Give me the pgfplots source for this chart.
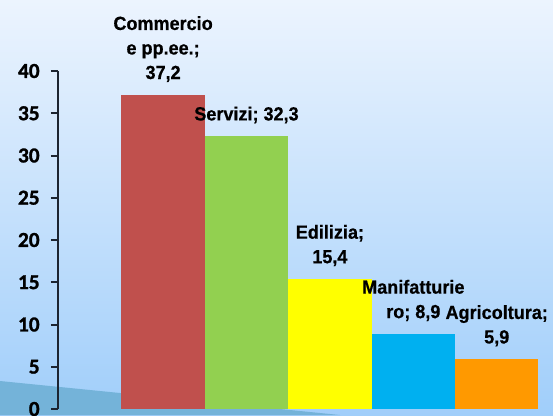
\documentclass[border=0pt]{standalone}
\usepackage{pgfplots}
\pgfplotsset{compat=1.18}
\usepackage{fontspec}
\setmainfont{Liberation Sans}
\newfontfamily\carlitob[FakeBold=1.2]{Carlito Bold}
\newfontfamily\lab[FakeStretch=0.95,FakeBold=0.6]{Liberation Sans Bold}
\definecolor{bgtop}{HTML}{ECF4FE}
\definecolor{bgbot}{HTML}{A0CEFA}
\definecolor{wave}{HTML}{74B3D9}
\definecolor{cRed}{HTML}{C0504D}
\definecolor{cGreen}{HTML}{92D050}
\definecolor{cYellow}{HTML}{FFFF00}
\definecolor{cBlue}{HTML}{00B0F0}
\definecolor{cOrange}{HTML}{FF9900}
\definecolor{axcol}{HTML}{1C2430}
\begin{document}
\begin{tikzpicture}
\path[use as bounding box, clip] (0,0) rectangle (414.75pt,311.25pt);
\shade[top color=bgtop, bottom color=bgbot] (0,0) rectangle (414.75pt,311.25pt);
\fill[wave] (0,25.5pt) -- (255pt,0pt) -- (0,0) -- cycle;
\begin{axis}[
  at={(43.5pt,4.5pt)}, anchor=south west,
  scale only axis, width=371.6pt, height=253.5pt,
  xmin=-1.26, xmax=4.68, ymin=0, ymax=40,
  axis x line=none, axis y line*=left,
  axis line style={axcol, line width=1.6pt, -},
  ytick={0,5,...,40}, tick align=outside, major tick length=5.25pt,
  ytick style={axcol, line width=1.5pt},
  /pgf/number format/assume math mode=true,
  yticklabel style={font=\carlitob\fontsize{16}{19}\selectfont, xshift=-5pt},
  ybar, bar width=1, bar shift=0pt,
  clip=false, enlargelimits=false,
  nodes near coords align={vertical},
  every node near coord/.append style={font=\lab\fontsize{14.25}{18.4}\selectfont, align=center, yshift=6pt, black},
]
\addplot[fill=cRed, draw=none, nodes near coords={Commercio\\e pp.ee.;\\37,2}] coordinates {(0,37.2)};
\addplot[fill=cGreen, draw=none, nodes near coords={Servizi; 32,3}] coordinates {(1,32.3)};
\addplot[fill=cYellow, draw=none, nodes near coords={Edilizia;\\15,4}] coordinates {(2,15.4)};
\addplot[fill=cBlue, draw=none, nodes near coords={Manifatturie\\ro; 8,9}] coordinates {(3,8.9)};
\addplot[fill=cOrange, draw=none, nodes near coords={Agricoltura;\\5,9}] coordinates {(4,5.9)};
\end{axis}
\end{tikzpicture}
\end{document}
